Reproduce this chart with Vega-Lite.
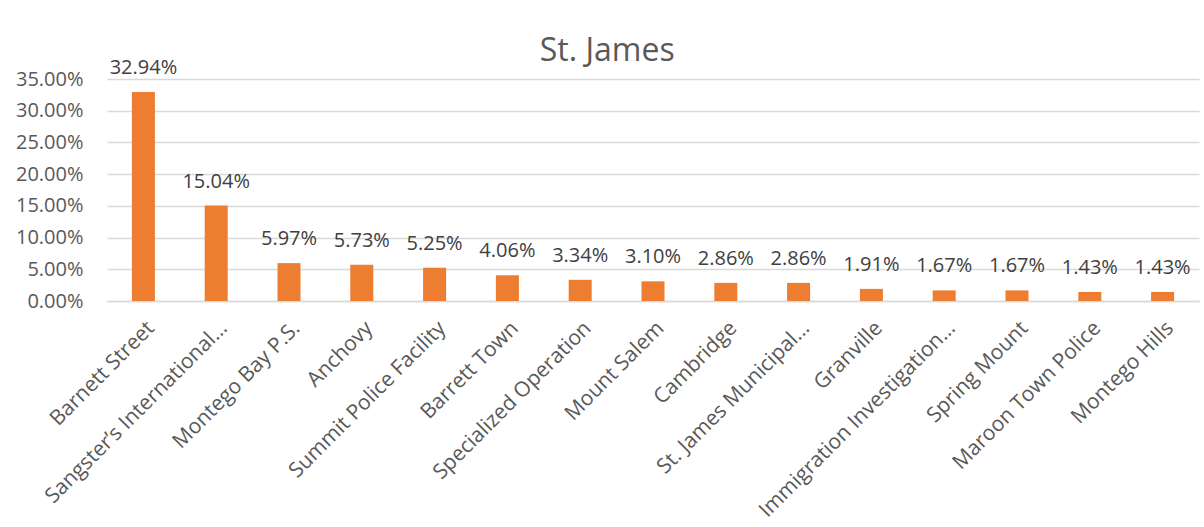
{
  "$schema": "https://vega.github.io/schema/vega-lite/v6.json",
  "width": 1092,
  "height": 222,
  "autosize": {"type": "none"},
  "padding": {"left": 107, "top": 79, "right": 5, "bottom": 226},
  "background": "white",
  "title": {
    "text": "St. James",
    "fontSize": 32,
    "font": "Open Sans",
    "fontWeight": "normal",
    "color": "#595959",
    "anchor": "middle",
    "frame": "bounds",
    "offset": -10
  },
  "config": {
    "view": {"stroke": null},
    "font": "Open Sans"
  },
  "data": {
    "values": [
      {"station": "Barnett Street", "share": 0.3294},
      {"station": "Sangster’s International…", "share": 0.1504},
      {"station": "Montego Bay P.S.", "share": 0.0597},
      {"station": "Anchovy", "share": 0.0573},
      {"station": "Summit Police Facility", "share": 0.0525},
      {"station": "Barrett Town", "share": 0.0406},
      {"station": "Specialized Operation", "share": 0.0334},
      {"station": "Mount Salem", "share": 0.0310},
      {"station": "Cambridge", "share": 0.0286},
      {"station": "St. James Municipal…", "share": 0.0286},
      {"station": "Granville", "share": 0.0191},
      {"station": "Immigration Investigation…", "share": 0.0167},
      {"station": "Spring Mount", "share": 0.0167},
      {"station": "Maroon Town Police", "share": 0.0143},
      {"station": "Montego Hills", "share": 0.0143}
    ]
  },
  "encoding": {
    "x": {
      "field": "station",
      "type": "nominal",
      "sort": null,
      "scale": {"paddingInner": 0.684, "paddingOuter": 0.342},
      "axis": {
        "title": null,
        "labelAngle": -45,
        "labelFontSize": 21,
        "labelColor": "#595959",
        "labelLimit": 0,
        "ticks": false,
        "tickSize": 0,
        "labelPadding": 16,
        "domainColor": "#d9d9d9",
        "domainWidth": 1.3
      }
    },
    "y": {
      "field": "share",
      "type": "quantitative",
      "scale": {"domain": [0, 0.35]},
      "axis": {
        "title": null,
        "format": ".2%",
        "values": [0, 0.05, 0.1, 0.15, 0.2, 0.25, 0.3, 0.35],
        "labelFontSize": 20,
        "labelColor": "#595959",
        "ticks": false,
        "tickSize": 0,
        "labelPadding": 24,
        "domain": false,
        "gridColor": "#d9d9d9",
        "gridWidth": 1.3
      }
    }
  },
  "layer": [
    {"mark": {"type": "bar", "color": "#ED7D31"}},
    {
      "mark": {"type": "text", "dy": -14, "baseline": "bottom", "fontSize": 20, "color": "#404040"},
      "encoding": {"text": {"field": "share", "type": "quantitative", "format": ".2%"}}
    }
  ]
}
